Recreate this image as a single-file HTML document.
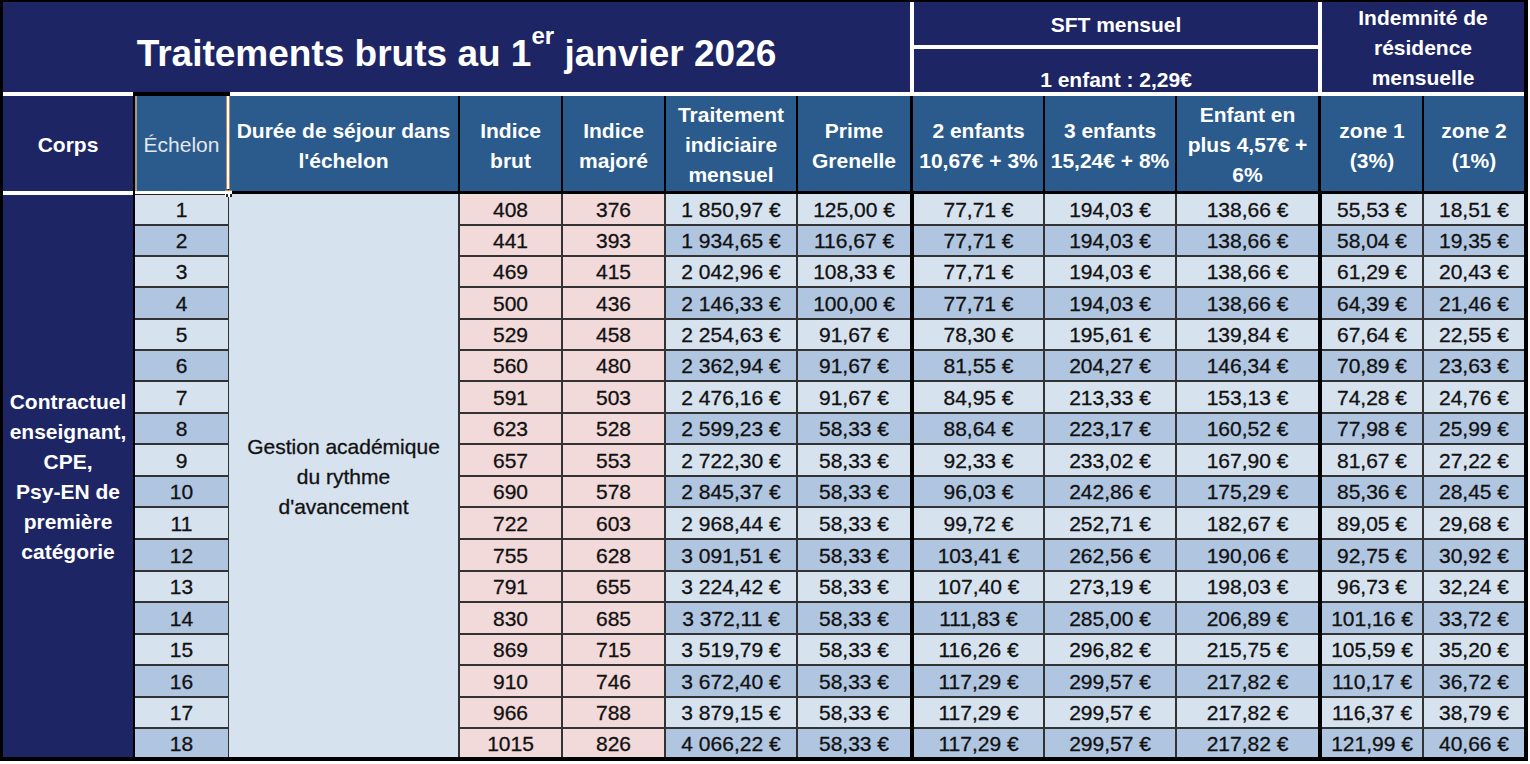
<!DOCTYPE html>
<html><head><meta charset="utf-8"><style>
html,body{margin:0;padding:0;background:#fff;}
body{width:1530px;height:764px;position:relative;overflow:hidden;font-family:"Liberation Sans",sans-serif;}
.r{position:absolute;}
.t,.tb{position:absolute;text-align:center;white-space:nowrap;color:#111111;}
.tb{font-weight:bold;}
.t{-webkit-text-stroke:0.3px currentColor;}
.w{color:#fff;}
sup{font-size:65%;vertical-align:0;position:relative;top:-0.88em;}
</style></head><body>
<div class="r" style="left:0px;top:0px;width:1528px;height:761px;background:#000;"></div>
<div class="r" style="left:3px;top:2px;width:907px;height:90px;background:#1d2565;"></div>
<div class="r" style="left:910px;top:2px;width:4px;height:90px;background:#fff;"></div>
<div class="r" style="left:914px;top:2px;width:404px;height:43px;background:#1d2565;"></div>
<div class="r" style="left:914px;top:45px;width:404px;height:4px;background:#fff;"></div>
<div class="r" style="left:914px;top:49px;width:404px;height:43px;background:#1d2565;"></div>
<div class="r" style="left:1318px;top:2px;width:4px;height:90px;background:#fff;"></div>
<div class="r" style="left:1322px;top:2px;width:202px;height:90px;background:#1d2565;"></div>
<div class="r" style="left:3px;top:92px;width:130px;height:4px;background:#fff;"></div>
<div class="r" style="left:230px;top:92px;width:1294px;height:4px;background:#fff;"></div>
<div class="r" style="left:3px;top:96px;width:130px;height:95px;background:#1d2565;"></div>
<div class="r" style="left:3px;top:191px;width:130px;height:4px;background:#fff;"></div>
<div class="r" style="left:135px;top:96px;width:93px;height:95px;background:#2b5b8c;"></div>
<div class="r" style="left:229px;top:96px;width:229px;height:95px;background:#2b5b8c;"></div>
<div class="r" style="left:460px;top:96px;width:101px;height:95px;background:#2b5b8c;"></div>
<div class="r" style="left:563px;top:96px;width:101px;height:95px;background:#2b5b8c;"></div>
<div class="r" style="left:666px;top:96px;width:130px;height:95px;background:#2b5b8c;"></div>
<div class="r" style="left:798px;top:96px;width:112px;height:95px;background:#2b5b8c;"></div>
<div class="r" style="left:913px;top:96px;width:130px;height:95px;background:#2b5b8c;"></div>
<div class="r" style="left:1045px;top:96px;width:130px;height:95px;background:#2b5b8c;"></div>
<div class="r" style="left:1177px;top:96px;width:141px;height:95px;background:#2b5b8c;"></div>
<div class="r" style="left:1321px;top:96px;width:101px;height:95px;background:#2b5b8c;"></div>
<div class="r" style="left:1424px;top:96px;width:100px;height:95px;background:#2b5b8c;"></div>
<div class="r" style="left:135px;top:194px;width:1389px;height:563px;background:#333333;"></div>
<div class="r" style="left:910px;top:194px;width:4px;height:563px;background:#000;"></div>
<div class="r" style="left:1318px;top:194px;width:4px;height:563px;background:#000;"></div>
<div class="r" style="left:3px;top:195px;width:130px;height:562px;background:#1d2565;"></div>
<div class="r" style="left:135px;top:194px;width:93px;height:30px;background:#d7e2ef;"></div>
<div class="r" style="left:460px;top:194px;width:101px;height:30px;background:#f2d9da;"></div>
<div class="r" style="left:563px;top:194px;width:101px;height:30px;background:#f2d9da;"></div>
<div class="r" style="left:666px;top:194px;width:130px;height:30px;background:#d7e2ef;"></div>
<div class="r" style="left:798px;top:194px;width:112px;height:30px;background:#d7e2ef;"></div>
<div class="r" style="left:914px;top:194px;width:129px;height:30px;background:#d7e2ef;"></div>
<div class="r" style="left:1045px;top:194px;width:130px;height:30px;background:#d7e2ef;"></div>
<div class="r" style="left:1177px;top:194px;width:141px;height:30px;background:#d7e2ef;"></div>
<div class="r" style="left:1322px;top:194px;width:100px;height:30px;background:#d7e2ef;"></div>
<div class="r" style="left:1424px;top:194px;width:100px;height:30px;background:#d7e2ef;"></div>
<div class="r" style="left:135px;top:226px;width:93px;height:29px;background:#b0c5e0;"></div>
<div class="r" style="left:460px;top:226px;width:101px;height:29px;background:#f2d9da;"></div>
<div class="r" style="left:563px;top:226px;width:101px;height:29px;background:#f2d9da;"></div>
<div class="r" style="left:666px;top:226px;width:130px;height:29px;background:#b0c5e0;"></div>
<div class="r" style="left:798px;top:226px;width:112px;height:29px;background:#b0c5e0;"></div>
<div class="r" style="left:914px;top:226px;width:129px;height:29px;background:#b0c5e0;"></div>
<div class="r" style="left:1045px;top:226px;width:130px;height:29px;background:#b0c5e0;"></div>
<div class="r" style="left:1177px;top:226px;width:141px;height:29px;background:#b0c5e0;"></div>
<div class="r" style="left:1322px;top:226px;width:100px;height:29px;background:#b0c5e0;"></div>
<div class="r" style="left:1424px;top:226px;width:100px;height:29px;background:#b0c5e0;"></div>
<div class="r" style="left:135px;top:257px;width:93px;height:29px;background:#d7e2ef;"></div>
<div class="r" style="left:460px;top:257px;width:101px;height:29px;background:#f2d9da;"></div>
<div class="r" style="left:563px;top:257px;width:101px;height:29px;background:#f2d9da;"></div>
<div class="r" style="left:666px;top:257px;width:130px;height:29px;background:#d7e2ef;"></div>
<div class="r" style="left:798px;top:257px;width:112px;height:29px;background:#d7e2ef;"></div>
<div class="r" style="left:914px;top:257px;width:129px;height:29px;background:#d7e2ef;"></div>
<div class="r" style="left:1045px;top:257px;width:130px;height:29px;background:#d7e2ef;"></div>
<div class="r" style="left:1177px;top:257px;width:141px;height:29px;background:#d7e2ef;"></div>
<div class="r" style="left:1322px;top:257px;width:100px;height:29px;background:#d7e2ef;"></div>
<div class="r" style="left:1424px;top:257px;width:100px;height:29px;background:#d7e2ef;"></div>
<div class="r" style="left:135px;top:288px;width:93px;height:30px;background:#b0c5e0;"></div>
<div class="r" style="left:460px;top:288px;width:101px;height:30px;background:#f2d9da;"></div>
<div class="r" style="left:563px;top:288px;width:101px;height:30px;background:#f2d9da;"></div>
<div class="r" style="left:666px;top:288px;width:130px;height:30px;background:#b0c5e0;"></div>
<div class="r" style="left:798px;top:288px;width:112px;height:30px;background:#b0c5e0;"></div>
<div class="r" style="left:914px;top:288px;width:129px;height:30px;background:#b0c5e0;"></div>
<div class="r" style="left:1045px;top:288px;width:130px;height:30px;background:#b0c5e0;"></div>
<div class="r" style="left:1177px;top:288px;width:141px;height:30px;background:#b0c5e0;"></div>
<div class="r" style="left:1322px;top:288px;width:100px;height:30px;background:#b0c5e0;"></div>
<div class="r" style="left:1424px;top:288px;width:100px;height:30px;background:#b0c5e0;"></div>
<div class="r" style="left:135px;top:320px;width:93px;height:29px;background:#d7e2ef;"></div>
<div class="r" style="left:460px;top:320px;width:101px;height:29px;background:#f2d9da;"></div>
<div class="r" style="left:563px;top:320px;width:101px;height:29px;background:#f2d9da;"></div>
<div class="r" style="left:666px;top:320px;width:130px;height:29px;background:#d7e2ef;"></div>
<div class="r" style="left:798px;top:320px;width:112px;height:29px;background:#d7e2ef;"></div>
<div class="r" style="left:914px;top:320px;width:129px;height:29px;background:#d7e2ef;"></div>
<div class="r" style="left:1045px;top:320px;width:130px;height:29px;background:#d7e2ef;"></div>
<div class="r" style="left:1177px;top:320px;width:141px;height:29px;background:#d7e2ef;"></div>
<div class="r" style="left:1322px;top:320px;width:100px;height:29px;background:#d7e2ef;"></div>
<div class="r" style="left:1424px;top:320px;width:100px;height:29px;background:#d7e2ef;"></div>
<div class="r" style="left:135px;top:351px;width:93px;height:29px;background:#b0c5e0;"></div>
<div class="r" style="left:460px;top:351px;width:101px;height:29px;background:#f2d9da;"></div>
<div class="r" style="left:563px;top:351px;width:101px;height:29px;background:#f2d9da;"></div>
<div class="r" style="left:666px;top:351px;width:130px;height:29px;background:#b0c5e0;"></div>
<div class="r" style="left:798px;top:351px;width:112px;height:29px;background:#b0c5e0;"></div>
<div class="r" style="left:914px;top:351px;width:129px;height:29px;background:#b0c5e0;"></div>
<div class="r" style="left:1045px;top:351px;width:130px;height:29px;background:#b0c5e0;"></div>
<div class="r" style="left:1177px;top:351px;width:141px;height:29px;background:#b0c5e0;"></div>
<div class="r" style="left:1322px;top:351px;width:100px;height:29px;background:#b0c5e0;"></div>
<div class="r" style="left:1424px;top:351px;width:100px;height:29px;background:#b0c5e0;"></div>
<div class="r" style="left:135px;top:382px;width:93px;height:30px;background:#d7e2ef;"></div>
<div class="r" style="left:460px;top:382px;width:101px;height:30px;background:#f2d9da;"></div>
<div class="r" style="left:563px;top:382px;width:101px;height:30px;background:#f2d9da;"></div>
<div class="r" style="left:666px;top:382px;width:130px;height:30px;background:#d7e2ef;"></div>
<div class="r" style="left:798px;top:382px;width:112px;height:30px;background:#d7e2ef;"></div>
<div class="r" style="left:914px;top:382px;width:129px;height:30px;background:#d7e2ef;"></div>
<div class="r" style="left:1045px;top:382px;width:130px;height:30px;background:#d7e2ef;"></div>
<div class="r" style="left:1177px;top:382px;width:141px;height:30px;background:#d7e2ef;"></div>
<div class="r" style="left:1322px;top:382px;width:100px;height:30px;background:#d7e2ef;"></div>
<div class="r" style="left:1424px;top:382px;width:100px;height:30px;background:#d7e2ef;"></div>
<div class="r" style="left:135px;top:414px;width:93px;height:29px;background:#b0c5e0;"></div>
<div class="r" style="left:460px;top:414px;width:101px;height:29px;background:#f2d9da;"></div>
<div class="r" style="left:563px;top:414px;width:101px;height:29px;background:#f2d9da;"></div>
<div class="r" style="left:666px;top:414px;width:130px;height:29px;background:#b0c5e0;"></div>
<div class="r" style="left:798px;top:414px;width:112px;height:29px;background:#b0c5e0;"></div>
<div class="r" style="left:914px;top:414px;width:129px;height:29px;background:#b0c5e0;"></div>
<div class="r" style="left:1045px;top:414px;width:130px;height:29px;background:#b0c5e0;"></div>
<div class="r" style="left:1177px;top:414px;width:141px;height:29px;background:#b0c5e0;"></div>
<div class="r" style="left:1322px;top:414px;width:100px;height:29px;background:#b0c5e0;"></div>
<div class="r" style="left:1424px;top:414px;width:100px;height:29px;background:#b0c5e0;"></div>
<div class="r" style="left:135px;top:445px;width:93px;height:30px;background:#d7e2ef;"></div>
<div class="r" style="left:460px;top:445px;width:101px;height:30px;background:#f2d9da;"></div>
<div class="r" style="left:563px;top:445px;width:101px;height:30px;background:#f2d9da;"></div>
<div class="r" style="left:666px;top:445px;width:130px;height:30px;background:#d7e2ef;"></div>
<div class="r" style="left:798px;top:445px;width:112px;height:30px;background:#d7e2ef;"></div>
<div class="r" style="left:914px;top:445px;width:129px;height:30px;background:#d7e2ef;"></div>
<div class="r" style="left:1045px;top:445px;width:130px;height:30px;background:#d7e2ef;"></div>
<div class="r" style="left:1177px;top:445px;width:141px;height:30px;background:#d7e2ef;"></div>
<div class="r" style="left:1322px;top:445px;width:100px;height:30px;background:#d7e2ef;"></div>
<div class="r" style="left:1424px;top:445px;width:100px;height:30px;background:#d7e2ef;"></div>
<div class="r" style="left:135px;top:477px;width:93px;height:29px;background:#b0c5e0;"></div>
<div class="r" style="left:460px;top:477px;width:101px;height:29px;background:#f2d9da;"></div>
<div class="r" style="left:563px;top:477px;width:101px;height:29px;background:#f2d9da;"></div>
<div class="r" style="left:666px;top:477px;width:130px;height:29px;background:#b0c5e0;"></div>
<div class="r" style="left:798px;top:477px;width:112px;height:29px;background:#b0c5e0;"></div>
<div class="r" style="left:914px;top:477px;width:129px;height:29px;background:#b0c5e0;"></div>
<div class="r" style="left:1045px;top:477px;width:130px;height:29px;background:#b0c5e0;"></div>
<div class="r" style="left:1177px;top:477px;width:141px;height:29px;background:#b0c5e0;"></div>
<div class="r" style="left:1322px;top:477px;width:100px;height:29px;background:#b0c5e0;"></div>
<div class="r" style="left:1424px;top:477px;width:100px;height:29px;background:#b0c5e0;"></div>
<div class="r" style="left:135px;top:508px;width:93px;height:30px;background:#d7e2ef;"></div>
<div class="r" style="left:460px;top:508px;width:101px;height:30px;background:#f2d9da;"></div>
<div class="r" style="left:563px;top:508px;width:101px;height:30px;background:#f2d9da;"></div>
<div class="r" style="left:666px;top:508px;width:130px;height:30px;background:#d7e2ef;"></div>
<div class="r" style="left:798px;top:508px;width:112px;height:30px;background:#d7e2ef;"></div>
<div class="r" style="left:914px;top:508px;width:129px;height:30px;background:#d7e2ef;"></div>
<div class="r" style="left:1045px;top:508px;width:130px;height:30px;background:#d7e2ef;"></div>
<div class="r" style="left:1177px;top:508px;width:141px;height:30px;background:#d7e2ef;"></div>
<div class="r" style="left:1322px;top:508px;width:100px;height:30px;background:#d7e2ef;"></div>
<div class="r" style="left:1424px;top:508px;width:100px;height:30px;background:#d7e2ef;"></div>
<div class="r" style="left:135px;top:540px;width:93px;height:30px;background:#b0c5e0;"></div>
<div class="r" style="left:460px;top:540px;width:101px;height:30px;background:#f2d9da;"></div>
<div class="r" style="left:563px;top:540px;width:101px;height:30px;background:#f2d9da;"></div>
<div class="r" style="left:666px;top:540px;width:130px;height:30px;background:#b0c5e0;"></div>
<div class="r" style="left:798px;top:540px;width:112px;height:30px;background:#b0c5e0;"></div>
<div class="r" style="left:914px;top:540px;width:129px;height:30px;background:#b0c5e0;"></div>
<div class="r" style="left:1045px;top:540px;width:130px;height:30px;background:#b0c5e0;"></div>
<div class="r" style="left:1177px;top:540px;width:141px;height:30px;background:#b0c5e0;"></div>
<div class="r" style="left:1322px;top:540px;width:100px;height:30px;background:#b0c5e0;"></div>
<div class="r" style="left:1424px;top:540px;width:100px;height:30px;background:#b0c5e0;"></div>
<div class="r" style="left:135px;top:572px;width:93px;height:29px;background:#d7e2ef;"></div>
<div class="r" style="left:460px;top:572px;width:101px;height:29px;background:#f2d9da;"></div>
<div class="r" style="left:563px;top:572px;width:101px;height:29px;background:#f2d9da;"></div>
<div class="r" style="left:666px;top:572px;width:130px;height:29px;background:#d7e2ef;"></div>
<div class="r" style="left:798px;top:572px;width:112px;height:29px;background:#d7e2ef;"></div>
<div class="r" style="left:914px;top:572px;width:129px;height:29px;background:#d7e2ef;"></div>
<div class="r" style="left:1045px;top:572px;width:130px;height:29px;background:#d7e2ef;"></div>
<div class="r" style="left:1177px;top:572px;width:141px;height:29px;background:#d7e2ef;"></div>
<div class="r" style="left:1322px;top:572px;width:100px;height:29px;background:#d7e2ef;"></div>
<div class="r" style="left:1424px;top:572px;width:100px;height:29px;background:#d7e2ef;"></div>
<div class="r" style="left:135px;top:603px;width:93px;height:30px;background:#b0c5e0;"></div>
<div class="r" style="left:460px;top:603px;width:101px;height:30px;background:#f2d9da;"></div>
<div class="r" style="left:563px;top:603px;width:101px;height:30px;background:#f2d9da;"></div>
<div class="r" style="left:666px;top:603px;width:130px;height:30px;background:#b0c5e0;"></div>
<div class="r" style="left:798px;top:603px;width:112px;height:30px;background:#b0c5e0;"></div>
<div class="r" style="left:914px;top:603px;width:129px;height:30px;background:#b0c5e0;"></div>
<div class="r" style="left:1045px;top:603px;width:130px;height:30px;background:#b0c5e0;"></div>
<div class="r" style="left:1177px;top:603px;width:141px;height:30px;background:#b0c5e0;"></div>
<div class="r" style="left:1322px;top:603px;width:100px;height:30px;background:#b0c5e0;"></div>
<div class="r" style="left:1424px;top:603px;width:100px;height:30px;background:#b0c5e0;"></div>
<div class="r" style="left:135px;top:635px;width:93px;height:29px;background:#d7e2ef;"></div>
<div class="r" style="left:460px;top:635px;width:101px;height:29px;background:#f2d9da;"></div>
<div class="r" style="left:563px;top:635px;width:101px;height:29px;background:#f2d9da;"></div>
<div class="r" style="left:666px;top:635px;width:130px;height:29px;background:#d7e2ef;"></div>
<div class="r" style="left:798px;top:635px;width:112px;height:29px;background:#d7e2ef;"></div>
<div class="r" style="left:914px;top:635px;width:129px;height:29px;background:#d7e2ef;"></div>
<div class="r" style="left:1045px;top:635px;width:130px;height:29px;background:#d7e2ef;"></div>
<div class="r" style="left:1177px;top:635px;width:141px;height:29px;background:#d7e2ef;"></div>
<div class="r" style="left:1322px;top:635px;width:100px;height:29px;background:#d7e2ef;"></div>
<div class="r" style="left:1424px;top:635px;width:100px;height:29px;background:#d7e2ef;"></div>
<div class="r" style="left:135px;top:666px;width:93px;height:30px;background:#b0c5e0;"></div>
<div class="r" style="left:460px;top:666px;width:101px;height:30px;background:#f2d9da;"></div>
<div class="r" style="left:563px;top:666px;width:101px;height:30px;background:#f2d9da;"></div>
<div class="r" style="left:666px;top:666px;width:130px;height:30px;background:#b0c5e0;"></div>
<div class="r" style="left:798px;top:666px;width:112px;height:30px;background:#b0c5e0;"></div>
<div class="r" style="left:914px;top:666px;width:129px;height:30px;background:#b0c5e0;"></div>
<div class="r" style="left:1045px;top:666px;width:130px;height:30px;background:#b0c5e0;"></div>
<div class="r" style="left:1177px;top:666px;width:141px;height:30px;background:#b0c5e0;"></div>
<div class="r" style="left:1322px;top:666px;width:100px;height:30px;background:#b0c5e0;"></div>
<div class="r" style="left:1424px;top:666px;width:100px;height:30px;background:#b0c5e0;"></div>
<div class="r" style="left:135px;top:698px;width:93px;height:29px;background:#d7e2ef;"></div>
<div class="r" style="left:460px;top:698px;width:101px;height:29px;background:#f2d9da;"></div>
<div class="r" style="left:563px;top:698px;width:101px;height:29px;background:#f2d9da;"></div>
<div class="r" style="left:666px;top:698px;width:130px;height:29px;background:#d7e2ef;"></div>
<div class="r" style="left:798px;top:698px;width:112px;height:29px;background:#d7e2ef;"></div>
<div class="r" style="left:914px;top:698px;width:129px;height:29px;background:#d7e2ef;"></div>
<div class="r" style="left:1045px;top:698px;width:130px;height:29px;background:#d7e2ef;"></div>
<div class="r" style="left:1177px;top:698px;width:141px;height:29px;background:#d7e2ef;"></div>
<div class="r" style="left:1322px;top:698px;width:100px;height:29px;background:#d7e2ef;"></div>
<div class="r" style="left:1424px;top:698px;width:100px;height:29px;background:#d7e2ef;"></div>
<div class="r" style="left:135px;top:729px;width:93px;height:28px;background:#b0c5e0;"></div>
<div class="r" style="left:460px;top:729px;width:101px;height:28px;background:#f2d9da;"></div>
<div class="r" style="left:563px;top:729px;width:101px;height:28px;background:#f2d9da;"></div>
<div class="r" style="left:666px;top:729px;width:130px;height:28px;background:#b0c5e0;"></div>
<div class="r" style="left:798px;top:729px;width:112px;height:28px;background:#b0c5e0;"></div>
<div class="r" style="left:914px;top:729px;width:129px;height:28px;background:#b0c5e0;"></div>
<div class="r" style="left:1045px;top:729px;width:130px;height:28px;background:#b0c5e0;"></div>
<div class="r" style="left:1177px;top:729px;width:141px;height:28px;background:#b0c5e0;"></div>
<div class="r" style="left:1322px;top:729px;width:100px;height:28px;background:#b0c5e0;"></div>
<div class="r" style="left:1424px;top:729px;width:100px;height:28px;background:#b0c5e0;"></div>
<div class="r" style="left:229px;top:194px;width:229px;height:563px;background:#d7e2ef;"></div>
<div class="r" style="left:135px;top:96px;width:1px;height:95px;background:#c08a5c;"></div>
<div class="r" style="left:136px;top:96px;width:1px;height:95px;background:#8fa0b4;"></div>
<div class="r" style="left:135px;top:191px;width:91px;height:3px;background:#fff;"></div>
<div class="r" style="left:135px;top:194px;width:91px;height:1px;background:#2a2218;"></div>
<div class="r" style="left:226px;top:96px;width:1px;height:93px;background:#c08a5c;"></div>
<div class="r" style="left:227px;top:96px;width:2px;height:93px;background:#fff;"></div>
<div class="r" style="left:229px;top:96px;width:1px;height:93px;background:#c08a5c;"></div>
<div class="r" style="left:225px;top:190px;width:7px;height:7px;background:#fff;"></div>
<div class="r" style="left:225px;top:190px;width:7px;height:1px;background:#c08a5c;"></div>
<div class="r" style="left:226px;top:194px;width:2px;height:3px;background:#222;"></div>
<div class="r" style="left:230px;top:194px;width:2px;height:3px;background:#222;"></div>
<div class="tb w" style="left:3px;top:130.10px;width:130px;line-height:30px;font-size:21px;">Corps</div>
<div class="t w" style="left:135px;top:130.10px;width:93px;line-height:30px;font-size:21px;-webkit-text-stroke:0;color:#e2e8ef;">Échelon</div>
<div class="tb w" style="left:229px;top:115.50px;width:229px;line-height:30px;font-size:21px;">Durée de séjour dans<br>l'échelon</div>
<div class="tb w" style="left:460px;top:115.50px;width:101px;line-height:30px;font-size:21px;">Indice<br>brut</div>
<div class="tb w" style="left:563px;top:115.50px;width:101px;line-height:30px;font-size:21px;">Indice<br>majoré</div>
<div class="tb w" style="left:666px;top:99.50px;width:130px;line-height:30px;font-size:21px;">Traitement<br>indiciaire<br>mensuel</div>
<div class="tb w" style="left:798px;top:115.50px;width:112px;line-height:30px;font-size:21px;">Prime<br>Grenelle</div>
<div class="tb w" style="left:914px;top:115.50px;width:129px;line-height:30px;font-size:21px;">2 enfants<br>10,67€ + 3%</div>
<div class="tb w" style="left:1045px;top:115.50px;width:130px;line-height:30px;font-size:21px;">3 enfants<br>15,24€ + 8%</div>
<div class="tb w" style="left:1177px;top:99.50px;width:141px;line-height:30px;font-size:21px;">Enfant en<br>plus 4,57€ +<br>6%</div>
<div class="tb w" style="left:1322px;top:115.50px;width:100px;line-height:30px;font-size:21px;">zone 1<br>(3%)</div>
<div class="tb w" style="left:1424px;top:115.50px;width:100px;line-height:30px;font-size:21px;">zone 2<br>(1%)</div>
<div class="tb w" style="left:3px;top:28.50px;width:907px;line-height:50px;font-size:37px;">Traitements bruts au 1<sup>er</sup> janvier 2026</div>
<div class="tb w" style="left:914px;top:9.50px;width:404px;line-height:30px;font-size:21px;">SFT mensuel</div>
<div class="tb w" style="left:914px;top:64.50px;width:404px;line-height:30px;font-size:21px;">1 enfant : 2,29€</div>
<div class="tb w" style="left:1322px;top:3.10px;width:202px;line-height:30px;font-size:21px;">Indemnité de<br>résidence<br>mensuelle</div>
<div class="tb w" style="left:3px;top:386.88px;width:130px;line-height:30.05px;font-size:21px;">Contractuel<br>enseignant,<br>CPE,<br>Psy-EN de<br>première<br>catégorie</div>
<div class="t" style="left:229px;top:431.55px;width:229px;line-height:30.3px;font-size:21px;">Gestion académique<br>du rythme<br>d'avancement</div>
<div class="t" style="left:135px;top:195.00px;width:93px;line-height:30px;font-size:21px;">1</div>
<div class="t" style="left:460px;top:195.00px;width:101px;line-height:30px;font-size:21px;">408</div>
<div class="t" style="left:563px;top:195.00px;width:101px;line-height:30px;font-size:21px;">376</div>
<div class="t" style="left:666px;top:195.00px;width:130px;line-height:30px;font-size:21px;">1 850,97 €</div>
<div class="t" style="left:798px;top:195.00px;width:112px;line-height:30px;font-size:21px;">125,00 €</div>
<div class="t" style="left:914px;top:195.00px;width:129px;line-height:30px;font-size:21px;">77,71 €</div>
<div class="t" style="left:1045px;top:195.00px;width:130px;line-height:30px;font-size:21px;">194,03 €</div>
<div class="t" style="left:1177px;top:195.00px;width:141px;line-height:30px;font-size:21px;">138,66 €</div>
<div class="t" style="left:1322px;top:195.00px;width:100px;line-height:30px;font-size:21px;">55,53 €</div>
<div class="t" style="left:1424px;top:195.00px;width:100px;line-height:30px;font-size:21px;">18,51 €</div>
<div class="t" style="left:135px;top:226.00px;width:93px;line-height:30px;font-size:21px;">2</div>
<div class="t" style="left:460px;top:226.00px;width:101px;line-height:30px;font-size:21px;">441</div>
<div class="t" style="left:563px;top:226.00px;width:101px;line-height:30px;font-size:21px;">393</div>
<div class="t" style="left:666px;top:226.00px;width:130px;line-height:30px;font-size:21px;">1 934,65 €</div>
<div class="t" style="left:798px;top:226.00px;width:112px;line-height:30px;font-size:21px;">116,67 €</div>
<div class="t" style="left:914px;top:226.00px;width:129px;line-height:30px;font-size:21px;">77,71 €</div>
<div class="t" style="left:1045px;top:226.00px;width:130px;line-height:30px;font-size:21px;">194,03 €</div>
<div class="t" style="left:1177px;top:226.00px;width:141px;line-height:30px;font-size:21px;">138,66 €</div>
<div class="t" style="left:1322px;top:226.00px;width:100px;line-height:30px;font-size:21px;">58,04 €</div>
<div class="t" style="left:1424px;top:226.00px;width:100px;line-height:30px;font-size:21px;">19,35 €</div>
<div class="t" style="left:135px;top:257.00px;width:93px;line-height:30px;font-size:21px;">3</div>
<div class="t" style="left:460px;top:257.00px;width:101px;line-height:30px;font-size:21px;">469</div>
<div class="t" style="left:563px;top:257.00px;width:101px;line-height:30px;font-size:21px;">415</div>
<div class="t" style="left:666px;top:257.00px;width:130px;line-height:30px;font-size:21px;">2 042,96 €</div>
<div class="t" style="left:798px;top:257.00px;width:112px;line-height:30px;font-size:21px;">108,33 €</div>
<div class="t" style="left:914px;top:257.00px;width:129px;line-height:30px;font-size:21px;">77,71 €</div>
<div class="t" style="left:1045px;top:257.00px;width:130px;line-height:30px;font-size:21px;">194,03 €</div>
<div class="t" style="left:1177px;top:257.00px;width:141px;line-height:30px;font-size:21px;">138,66 €</div>
<div class="t" style="left:1322px;top:257.00px;width:100px;line-height:30px;font-size:21px;">61,29 €</div>
<div class="t" style="left:1424px;top:257.00px;width:100px;line-height:30px;font-size:21px;">20,43 €</div>
<div class="t" style="left:135px;top:289.00px;width:93px;line-height:30px;font-size:21px;">4</div>
<div class="t" style="left:460px;top:289.00px;width:101px;line-height:30px;font-size:21px;">500</div>
<div class="t" style="left:563px;top:289.00px;width:101px;line-height:30px;font-size:21px;">436</div>
<div class="t" style="left:666px;top:289.00px;width:130px;line-height:30px;font-size:21px;">2 146,33 €</div>
<div class="t" style="left:798px;top:289.00px;width:112px;line-height:30px;font-size:21px;">100,00 €</div>
<div class="t" style="left:914px;top:289.00px;width:129px;line-height:30px;font-size:21px;">77,71 €</div>
<div class="t" style="left:1045px;top:289.00px;width:130px;line-height:30px;font-size:21px;">194,03 €</div>
<div class="t" style="left:1177px;top:289.00px;width:141px;line-height:30px;font-size:21px;">138,66 €</div>
<div class="t" style="left:1322px;top:289.00px;width:100px;line-height:30px;font-size:21px;">64,39 €</div>
<div class="t" style="left:1424px;top:289.00px;width:100px;line-height:30px;font-size:21px;">21,46 €</div>
<div class="t" style="left:135px;top:320.00px;width:93px;line-height:30px;font-size:21px;">5</div>
<div class="t" style="left:460px;top:320.00px;width:101px;line-height:30px;font-size:21px;">529</div>
<div class="t" style="left:563px;top:320.00px;width:101px;line-height:30px;font-size:21px;">458</div>
<div class="t" style="left:666px;top:320.00px;width:130px;line-height:30px;font-size:21px;">2 254,63 €</div>
<div class="t" style="left:798px;top:320.00px;width:112px;line-height:30px;font-size:21px;">91,67 €</div>
<div class="t" style="left:914px;top:320.00px;width:129px;line-height:30px;font-size:21px;">78,30 €</div>
<div class="t" style="left:1045px;top:320.00px;width:130px;line-height:30px;font-size:21px;">195,61 €</div>
<div class="t" style="left:1177px;top:320.00px;width:141px;line-height:30px;font-size:21px;">139,84 €</div>
<div class="t" style="left:1322px;top:320.00px;width:100px;line-height:30px;font-size:21px;">67,64 €</div>
<div class="t" style="left:1424px;top:320.00px;width:100px;line-height:30px;font-size:21px;">22,55 €</div>
<div class="t" style="left:135px;top:351.00px;width:93px;line-height:30px;font-size:21px;">6</div>
<div class="t" style="left:460px;top:351.00px;width:101px;line-height:30px;font-size:21px;">560</div>
<div class="t" style="left:563px;top:351.00px;width:101px;line-height:30px;font-size:21px;">480</div>
<div class="t" style="left:666px;top:351.00px;width:130px;line-height:30px;font-size:21px;">2 362,94 €</div>
<div class="t" style="left:798px;top:351.00px;width:112px;line-height:30px;font-size:21px;">91,67 €</div>
<div class="t" style="left:914px;top:351.00px;width:129px;line-height:30px;font-size:21px;">81,55 €</div>
<div class="t" style="left:1045px;top:351.00px;width:130px;line-height:30px;font-size:21px;">204,27 €</div>
<div class="t" style="left:1177px;top:351.00px;width:141px;line-height:30px;font-size:21px;">146,34 €</div>
<div class="t" style="left:1322px;top:351.00px;width:100px;line-height:30px;font-size:21px;">70,89 €</div>
<div class="t" style="left:1424px;top:351.00px;width:100px;line-height:30px;font-size:21px;">23,63 €</div>
<div class="t" style="left:135px;top:383.00px;width:93px;line-height:30px;font-size:21px;">7</div>
<div class="t" style="left:460px;top:383.00px;width:101px;line-height:30px;font-size:21px;">591</div>
<div class="t" style="left:563px;top:383.00px;width:101px;line-height:30px;font-size:21px;">503</div>
<div class="t" style="left:666px;top:383.00px;width:130px;line-height:30px;font-size:21px;">2 476,16 €</div>
<div class="t" style="left:798px;top:383.00px;width:112px;line-height:30px;font-size:21px;">91,67 €</div>
<div class="t" style="left:914px;top:383.00px;width:129px;line-height:30px;font-size:21px;">84,95 €</div>
<div class="t" style="left:1045px;top:383.00px;width:130px;line-height:30px;font-size:21px;">213,33 €</div>
<div class="t" style="left:1177px;top:383.00px;width:141px;line-height:30px;font-size:21px;">153,13 €</div>
<div class="t" style="left:1322px;top:383.00px;width:100px;line-height:30px;font-size:21px;">74,28 €</div>
<div class="t" style="left:1424px;top:383.00px;width:100px;line-height:30px;font-size:21px;">24,76 €</div>
<div class="t" style="left:135px;top:414.00px;width:93px;line-height:30px;font-size:21px;">8</div>
<div class="t" style="left:460px;top:414.00px;width:101px;line-height:30px;font-size:21px;">623</div>
<div class="t" style="left:563px;top:414.00px;width:101px;line-height:30px;font-size:21px;">528</div>
<div class="t" style="left:666px;top:414.00px;width:130px;line-height:30px;font-size:21px;">2 599,23 €</div>
<div class="t" style="left:798px;top:414.00px;width:112px;line-height:30px;font-size:21px;">58,33 €</div>
<div class="t" style="left:914px;top:414.00px;width:129px;line-height:30px;font-size:21px;">88,64 €</div>
<div class="t" style="left:1045px;top:414.00px;width:130px;line-height:30px;font-size:21px;">223,17 €</div>
<div class="t" style="left:1177px;top:414.00px;width:141px;line-height:30px;font-size:21px;">160,52 €</div>
<div class="t" style="left:1322px;top:414.00px;width:100px;line-height:30px;font-size:21px;">77,98 €</div>
<div class="t" style="left:1424px;top:414.00px;width:100px;line-height:30px;font-size:21px;">25,99 €</div>
<div class="t" style="left:135px;top:446.00px;width:93px;line-height:30px;font-size:21px;">9</div>
<div class="t" style="left:460px;top:446.00px;width:101px;line-height:30px;font-size:21px;">657</div>
<div class="t" style="left:563px;top:446.00px;width:101px;line-height:30px;font-size:21px;">553</div>
<div class="t" style="left:666px;top:446.00px;width:130px;line-height:30px;font-size:21px;">2 722,30 €</div>
<div class="t" style="left:798px;top:446.00px;width:112px;line-height:30px;font-size:21px;">58,33 €</div>
<div class="t" style="left:914px;top:446.00px;width:129px;line-height:30px;font-size:21px;">92,33 €</div>
<div class="t" style="left:1045px;top:446.00px;width:130px;line-height:30px;font-size:21px;">233,02 €</div>
<div class="t" style="left:1177px;top:446.00px;width:141px;line-height:30px;font-size:21px;">167,90 €</div>
<div class="t" style="left:1322px;top:446.00px;width:100px;line-height:30px;font-size:21px;">81,67 €</div>
<div class="t" style="left:1424px;top:446.00px;width:100px;line-height:30px;font-size:21px;">27,22 €</div>
<div class="t" style="left:135px;top:477.00px;width:93px;line-height:30px;font-size:21px;">10</div>
<div class="t" style="left:460px;top:477.00px;width:101px;line-height:30px;font-size:21px;">690</div>
<div class="t" style="left:563px;top:477.00px;width:101px;line-height:30px;font-size:21px;">578</div>
<div class="t" style="left:666px;top:477.00px;width:130px;line-height:30px;font-size:21px;">2 845,37 €</div>
<div class="t" style="left:798px;top:477.00px;width:112px;line-height:30px;font-size:21px;">58,33 €</div>
<div class="t" style="left:914px;top:477.00px;width:129px;line-height:30px;font-size:21px;">96,03 €</div>
<div class="t" style="left:1045px;top:477.00px;width:130px;line-height:30px;font-size:21px;">242,86 €</div>
<div class="t" style="left:1177px;top:477.00px;width:141px;line-height:30px;font-size:21px;">175,29 €</div>
<div class="t" style="left:1322px;top:477.00px;width:100px;line-height:30px;font-size:21px;">85,36 €</div>
<div class="t" style="left:1424px;top:477.00px;width:100px;line-height:30px;font-size:21px;">28,45 €</div>
<div class="t" style="left:135px;top:509.00px;width:93px;line-height:30px;font-size:21px;">11</div>
<div class="t" style="left:460px;top:509.00px;width:101px;line-height:30px;font-size:21px;">722</div>
<div class="t" style="left:563px;top:509.00px;width:101px;line-height:30px;font-size:21px;">603</div>
<div class="t" style="left:666px;top:509.00px;width:130px;line-height:30px;font-size:21px;">2 968,44 €</div>
<div class="t" style="left:798px;top:509.00px;width:112px;line-height:30px;font-size:21px;">58,33 €</div>
<div class="t" style="left:914px;top:509.00px;width:129px;line-height:30px;font-size:21px;">99,72 €</div>
<div class="t" style="left:1045px;top:509.00px;width:130px;line-height:30px;font-size:21px;">252,71 €</div>
<div class="t" style="left:1177px;top:509.00px;width:141px;line-height:30px;font-size:21px;">182,67 €</div>
<div class="t" style="left:1322px;top:509.00px;width:100px;line-height:30px;font-size:21px;">89,05 €</div>
<div class="t" style="left:1424px;top:509.00px;width:100px;line-height:30px;font-size:21px;">29,68 €</div>
<div class="t" style="left:135px;top:541.00px;width:93px;line-height:30px;font-size:21px;">12</div>
<div class="t" style="left:460px;top:541.00px;width:101px;line-height:30px;font-size:21px;">755</div>
<div class="t" style="left:563px;top:541.00px;width:101px;line-height:30px;font-size:21px;">628</div>
<div class="t" style="left:666px;top:541.00px;width:130px;line-height:30px;font-size:21px;">3 091,51 €</div>
<div class="t" style="left:798px;top:541.00px;width:112px;line-height:30px;font-size:21px;">58,33 €</div>
<div class="t" style="left:914px;top:541.00px;width:129px;line-height:30px;font-size:21px;">103,41 €</div>
<div class="t" style="left:1045px;top:541.00px;width:130px;line-height:30px;font-size:21px;">262,56 €</div>
<div class="t" style="left:1177px;top:541.00px;width:141px;line-height:30px;font-size:21px;">190,06 €</div>
<div class="t" style="left:1322px;top:541.00px;width:100px;line-height:30px;font-size:21px;">92,75 €</div>
<div class="t" style="left:1424px;top:541.00px;width:100px;line-height:30px;font-size:21px;">30,92 €</div>
<div class="t" style="left:135px;top:572.00px;width:93px;line-height:30px;font-size:21px;">13</div>
<div class="t" style="left:460px;top:572.00px;width:101px;line-height:30px;font-size:21px;">791</div>
<div class="t" style="left:563px;top:572.00px;width:101px;line-height:30px;font-size:21px;">655</div>
<div class="t" style="left:666px;top:572.00px;width:130px;line-height:30px;font-size:21px;">3 224,42 €</div>
<div class="t" style="left:798px;top:572.00px;width:112px;line-height:30px;font-size:21px;">58,33 €</div>
<div class="t" style="left:914px;top:572.00px;width:129px;line-height:30px;font-size:21px;">107,40 €</div>
<div class="t" style="left:1045px;top:572.00px;width:130px;line-height:30px;font-size:21px;">273,19 €</div>
<div class="t" style="left:1177px;top:572.00px;width:141px;line-height:30px;font-size:21px;">198,03 €</div>
<div class="t" style="left:1322px;top:572.00px;width:100px;line-height:30px;font-size:21px;">96,73 €</div>
<div class="t" style="left:1424px;top:572.00px;width:100px;line-height:30px;font-size:21px;">32,24 €</div>
<div class="t" style="left:135px;top:604.00px;width:93px;line-height:30px;font-size:21px;">14</div>
<div class="t" style="left:460px;top:604.00px;width:101px;line-height:30px;font-size:21px;">830</div>
<div class="t" style="left:563px;top:604.00px;width:101px;line-height:30px;font-size:21px;">685</div>
<div class="t" style="left:666px;top:604.00px;width:130px;line-height:30px;font-size:21px;">3 372,11 €</div>
<div class="t" style="left:798px;top:604.00px;width:112px;line-height:30px;font-size:21px;">58,33 €</div>
<div class="t" style="left:914px;top:604.00px;width:129px;line-height:30px;font-size:21px;">111,83 €</div>
<div class="t" style="left:1045px;top:604.00px;width:130px;line-height:30px;font-size:21px;">285,00 €</div>
<div class="t" style="left:1177px;top:604.00px;width:141px;line-height:30px;font-size:21px;">206,89 €</div>
<div class="t" style="left:1322px;top:604.00px;width:100px;line-height:30px;font-size:21px;">101,16 €</div>
<div class="t" style="left:1424px;top:604.00px;width:100px;line-height:30px;font-size:21px;">33,72 €</div>
<div class="t" style="left:135px;top:635.00px;width:93px;line-height:30px;font-size:21px;">15</div>
<div class="t" style="left:460px;top:635.00px;width:101px;line-height:30px;font-size:21px;">869</div>
<div class="t" style="left:563px;top:635.00px;width:101px;line-height:30px;font-size:21px;">715</div>
<div class="t" style="left:666px;top:635.00px;width:130px;line-height:30px;font-size:21px;">3 519,79 €</div>
<div class="t" style="left:798px;top:635.00px;width:112px;line-height:30px;font-size:21px;">58,33 €</div>
<div class="t" style="left:914px;top:635.00px;width:129px;line-height:30px;font-size:21px;">116,26 €</div>
<div class="t" style="left:1045px;top:635.00px;width:130px;line-height:30px;font-size:21px;">296,82 €</div>
<div class="t" style="left:1177px;top:635.00px;width:141px;line-height:30px;font-size:21px;">215,75 €</div>
<div class="t" style="left:1322px;top:635.00px;width:100px;line-height:30px;font-size:21px;">105,59 €</div>
<div class="t" style="left:1424px;top:635.00px;width:100px;line-height:30px;font-size:21px;">35,20 €</div>
<div class="t" style="left:135px;top:667.00px;width:93px;line-height:30px;font-size:21px;">16</div>
<div class="t" style="left:460px;top:667.00px;width:101px;line-height:30px;font-size:21px;">910</div>
<div class="t" style="left:563px;top:667.00px;width:101px;line-height:30px;font-size:21px;">746</div>
<div class="t" style="left:666px;top:667.00px;width:130px;line-height:30px;font-size:21px;">3 672,40 €</div>
<div class="t" style="left:798px;top:667.00px;width:112px;line-height:30px;font-size:21px;">58,33 €</div>
<div class="t" style="left:914px;top:667.00px;width:129px;line-height:30px;font-size:21px;">117,29 €</div>
<div class="t" style="left:1045px;top:667.00px;width:130px;line-height:30px;font-size:21px;">299,57 €</div>
<div class="t" style="left:1177px;top:667.00px;width:141px;line-height:30px;font-size:21px;">217,82 €</div>
<div class="t" style="left:1322px;top:667.00px;width:100px;line-height:30px;font-size:21px;">110,17 €</div>
<div class="t" style="left:1424px;top:667.00px;width:100px;line-height:30px;font-size:21px;">36,72 €</div>
<div class="t" style="left:135px;top:698.00px;width:93px;line-height:30px;font-size:21px;">17</div>
<div class="t" style="left:460px;top:698.00px;width:101px;line-height:30px;font-size:21px;">966</div>
<div class="t" style="left:563px;top:698.00px;width:101px;line-height:30px;font-size:21px;">788</div>
<div class="t" style="left:666px;top:698.00px;width:130px;line-height:30px;font-size:21px;">3 879,15 €</div>
<div class="t" style="left:798px;top:698.00px;width:112px;line-height:30px;font-size:21px;">58,33 €</div>
<div class="t" style="left:914px;top:698.00px;width:129px;line-height:30px;font-size:21px;">117,29 €</div>
<div class="t" style="left:1045px;top:698.00px;width:130px;line-height:30px;font-size:21px;">299,57 €</div>
<div class="t" style="left:1177px;top:698.00px;width:141px;line-height:30px;font-size:21px;">217,82 €</div>
<div class="t" style="left:1322px;top:698.00px;width:100px;line-height:30px;font-size:21px;">116,37 €</div>
<div class="t" style="left:1424px;top:698.00px;width:100px;line-height:30px;font-size:21px;">38,79 €</div>
<div class="t" style="left:135px;top:729.30px;width:93px;line-height:30px;font-size:21px;">18</div>
<div class="t" style="left:460px;top:729.30px;width:101px;line-height:30px;font-size:21px;">1015</div>
<div class="t" style="left:563px;top:729.30px;width:101px;line-height:30px;font-size:21px;">826</div>
<div class="t" style="left:666px;top:729.30px;width:130px;line-height:30px;font-size:21px;">4 066,22 €</div>
<div class="t" style="left:798px;top:729.30px;width:112px;line-height:30px;font-size:21px;">58,33 €</div>
<div class="t" style="left:914px;top:729.30px;width:129px;line-height:30px;font-size:21px;">117,29 €</div>
<div class="t" style="left:1045px;top:729.30px;width:130px;line-height:30px;font-size:21px;">299,57 €</div>
<div class="t" style="left:1177px;top:729.30px;width:141px;line-height:30px;font-size:21px;">217,82 €</div>
<div class="t" style="left:1322px;top:729.30px;width:100px;line-height:30px;font-size:21px;">121,99 €</div>
<div class="t" style="left:1424px;top:729.30px;width:100px;line-height:30px;font-size:21px;">40,66 €</div>
</body></html>
